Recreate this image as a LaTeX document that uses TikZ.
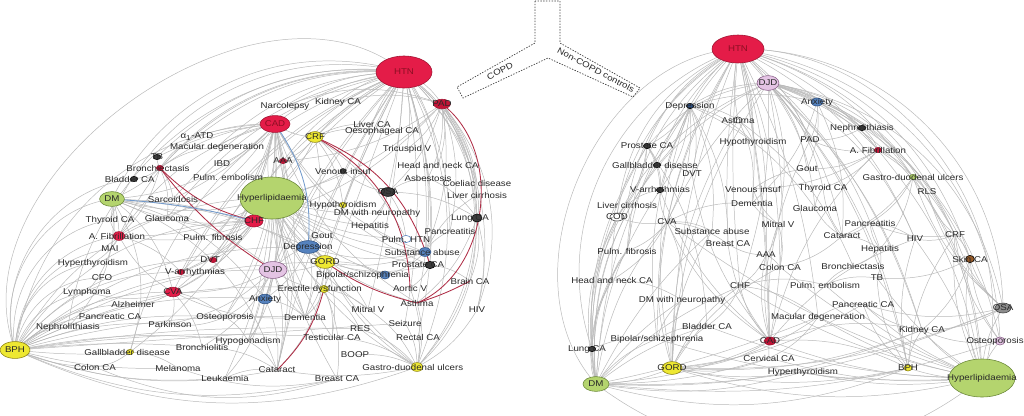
\documentclass[tikz,border=0pt]{standalone}
\usepackage{fontspec}
\newfontfamily\netfont[FakeStretch=1.15]{Liberation Sans}
\usetikzlibrary{shapes.geometric, backgrounds}
\definecolor{htnred}{RGB}{228,28,72}
\definecolor{htnline}{RGB}{160,20,50}
\definecolor{htntext}{RGB}{140,15,35}
\definecolor{dotred}{RGB}{195,20,55}
\definecolor{limefill}{RGB}{180,212,110}
\definecolor{limeline}{RGB}{105,135,55}
\definecolor{yelfill}{RGB}{238,232,50}
\definecolor{yelline}{RGB}{140,130,20}
\definecolor{lilac}{RGB}{228,196,228}
\definecolor{lilacline}{RGB}{135,95,135}
\definecolor{bluefill}{RGB}{85,130,190}
\definecolor{blueline}{RGB}{45,80,130}
\definecolor{darkdot}{RGB}{60,60,60}
\definecolor{browndot}{RGB}{150,90,40}
\definecolor{labelgray}{RGB}{40,40,40}
\definecolor{edgegray}{RGB}{185,185,185}
\definecolor{edgered}{RGB}{175,45,70}
\definecolor{edgeblue}{RGB}{115,155,205}
\tikzset{
  lbl/.style={
    font=\netfont\fontsize{6}{7}\selectfont,
    text=labelgray,
    inner sep=0.5pt
  },
  dotnode/.style={
    ellipse,
    draw,
    line width=0.4pt,
    inner sep=0pt,
    minimum width=0.18cm,
    minimum height=0.13cm
  },
  gedge/.style={
    draw=edgegray,
    line width=0.35pt
  },
  redge/.style={
    draw=edgered,
    line width=0.6pt
  },
  bedge/.style={
    draw=edgeblue,
    line width=0.6pt
  },
  ybox/.style={
    draw=black!75,
    line width=0.5pt,
    dash pattern=on 1pt off 1pt
  }
}

\begin{document}
\begin{tikzpicture}[x=0.025cm, y=-0.025cm]
  \useasboundingbox (0,0) rectangle (1024,415);

  % Encadre en Y
  \draw[ybox] (535,1) -- (535,43) -- (457,87) -- (463,98) -- (548,58) -- (633,97) -- (640,88) -- (560,43) -- (560,1) -- cycle;
  \node[lbl, rotate=28, inner sep=0pt] (copd) at (500,71) {COPD};
  \node[lbl, rotate=-28, inner sep=0pt] (noncopd) at (596,70) {Non-COPD controls};

  % Reseau COPD : noeuds
  \node[dotnode, fill=htnred, draw=htnline, minimum width=1.4cm, minimum height=0.8cm, label={[lbl, text=htntext]center:HTN}] (lHTN) at (404,72) {};
  \node[dotnode, fill=htnred, draw=htnline, minimum width=0.75cm, minimum height=0.42cm, label={[lbl, text=htntext]center:CAD}] (lCAD) at (275,124) {};
  \node[dotnode, fill=yelfill, draw=yelline, minimum width=0.4cm, minimum height=0.27cm, label={[lbl]center:CRF}] (lCRF) at (315,137) {};
  \node[dotnode, fill=dotred, draw=htnline, minimum width=0.42cm, minimum height=0.24cm, label={[lbl]center:PAD}] (lPAD) at (442,104) {};
  \node[dotnode, fill=limefill, draw=limeline, minimum width=1.6cm, minimum height=1.05cm, label={[lbl]center:Hyperlipidaemia}] (lHyper) at (272,198) {};
  \node[dotnode, fill=limefill, draw=limeline, minimum width=0.62cm, minimum height=0.37cm, label={[lbl]center:DM}] (lDM) at (112,199) {};
  \node[dotnode, fill=htnred, draw=htnline, minimum width=0.45cm, minimum height=0.3cm, label={[lbl]center:CHF}] (lCHF) at (254,221) {};
  \node[dotnode, fill=bluefill, draw=blueline, minimum width=0.58cm, minimum height=0.32cm, label={[lbl]center:Depression}] (lDep) at (308,247) {};
  \node[dotnode, fill=lilac, draw=lilacline, minimum width=0.7cm, minimum height=0.42cm, label={[lbl]center:DJD}] (lDJD) at (273,270) {};
  \node[dotnode, fill=yelfill, draw=yelline, minimum width=0.5cm, minimum height=0.32cm, label={[lbl]center:GORD}] (lGORD) at (325,262) {};
  \node[dotnode, fill=yelfill, draw=yelline, minimum width=0.75cm, minimum height=0.42cm, label={[lbl]center:BPH}] (lBPH) at (15,350) {};
  \node[dotnode, fill=htnred, draw=htnline, minimum width=0.38cm, minimum height=0.24cm, label={[lbl]center:CVA}] (lCVA) at (173,292) {};
  \node[dotnode, fill=htnred, draw=htnline, minimum width=0.3cm, minimum height=0.22cm, label={[lbl, xshift=-1.5pt]center:A. Fibrillation}] (lAFib) at (119,236) {};
  \node[dotnode, fill=darkdot, draw=black, minimum width=0.35cm, minimum height=0.22cm, label={[lbl]center:OSA}] (lOSA) at (388,192) {};
  \node[dotnode, fill=darkdot, draw=black, minimum width=0.25cm, minimum height=0.2cm, label={[lbl, xshift=-5pt]center:Lung CA}] (lLung) at (477,218) {};
  \node[dotnode, fill=bluefill, draw=blueline, minimum width=0.3cm, minimum height=0.22cm, label={[lbl, xshift=-2pt]center:Substance abuse}] (lSub) at (425,252) {};
  \node[dotnode, fill=darkdot, draw=black, minimum width=0.25cm, minimum height=0.18cm, label={[lbl, xshift=-8.5pt]center:Prostate CA}] (lPros) at (430,265) {};
  \node[dotnode, fill=bluefill, draw=blueline, minimum width=0.25cm, minimum height=0.2cm, label={[lbl, xshift=-16pt]center:Bipolar/schizophrenia}] (lBip) at (385,275) {};
  \node[dotnode, fill=bluefill, draw=blueline, minimum width=0.35cm, minimum height=0.24cm, label={[lbl]center:Anxiety}] (lAnx) at (265,299) {};
  \node[dotnode, fill=yelfill, draw=yelline, minimum width=0.22cm, minimum height=0.18cm, label={[lbl, xshift=-3pt]center:Erectile dysfunction}] (lED) at (324,289) {};
  \node[dotnode, fill=yelfill, draw=yelline, minimum width=0.3cm, minimum height=0.22cm, label={[lbl, xshift=-3pt]center:Gastro-duodenal ulcers}] (lGDU) at (417,367) {};
  \node[dotnode, fill=yelfill, draw=yelline, label={[lbl, xshift=-2pt]center:Gallbladder disease}] (lGall) at (130,352) {};
  \node[dotnode, fill=yelfill, draw=yelline, label={[lbl]center:Hypothyroidism}] (lHypo) at (343,205) {};
  \node[dotnode, fill=dotred, draw=htnline, label={[lbl, xshift=-2pt]center:DVT}] (lDVT) at (213,260) {};
  \node[dotnode, fill=dotred, draw=htnline, label={[lbl, xshift=10pt]center:V-arrhythmias}] (lVarr) at (181,272) {};
  \node[dotnode, fill=dotred, draw=htnline, label={[lbl]center:AAA}] (lAAA) at (283,161) {};
  \node[dotnode, fill=darkdot, draw=black, label={[lbl]center:TB}] (lTB) at (157,157) {};
  \node[dotnode, fill=dotred, draw=htnline, label={[lbl, xshift=-1.5pt]center:Bronchiectasis}] (lBronch) at (160,168) {};
  \node[dotnode, fill=darkdot, draw=black, label={[lbl, xshift=-3pt]center:Bladder CA}] (lBladder) at (134,179) {};
  \node[dotnode, fill=white, draw=bluefill, minimum width=0.25cm, minimum height=0.18cm, label={[lbl]center:Pulm. HTN}] (lPulmH) at (406,239) {};
  \node[dotnode, fill=darkdot, draw=black, minimum width=0.15cm, minimum height=0.12cm, label={[lbl]center:Venous insuf}] (lVenous) at (343,171) {};

  \node[lbl] (lNarco) at (285,106) {Narcolepsy};
  \node[lbl] (lKidney) at (338,102) {Kidney CA};
  \node[lbl] (lLiver) at (372,124) {Liver CA};
  \node[lbl] (lOeso) at (382,131) {Oesophageal CA};
  \node[lbl] (lTric) at (407,149) {Tricuspid V};
  \node[lbl] (lHNC) at (438,165) {Head and neck CA};
  \node[lbl] (lAsb) at (428,178) {Asbestosis};
  \node[lbl] (lCoel) at (477,183) {Coeliac disease};
  \node[lbl] (lCirr) at (477,195) {Liver cirrhosis};
  \node[lbl] (lATD) at (197,137) {α\textsubscript{1}-ATD};
  \node[lbl] (lMac) at (217,147) {Macular degeneration};
  \node[lbl] (lIBD) at (222,164) {IBD};
  \node[lbl] (lPulmE) at (228,177) {Pulm. embolism};
  \node[lbl] (lSarc) at (173,199) {Sarcoidosis};
  \node[lbl] (lThyCA) at (110,220) {Thyroid CA};
  \node[lbl] (lGlau) at (167,218) {Glaucoma};
  \node[lbl] (lPulmF) at (213,237) {Pulm. fibrosis};
  \node[lbl] (lMAI) at (110,249) {MAI};
  \node[lbl] (lHyperT) at (93,263) {Hyperthyroidism};
  \node[lbl] (lCFO) at (102,278) {CFO};
  \node[lbl] (lLymph) at (87,292) {Lymphoma};
  \node[lbl] (lAlz) at (133,304) {Alzheimer};
  \node[lbl] (lPancCA) at (110,316) {Pancreatic CA};
  \node[lbl] (lOsteo) at (225,317) {Osteoporosis};
  \node[lbl] (lPark) at (170,324) {Parkinson};
  \node[lbl] (lNeph) at (68,327) {Nephrolithiasis};
  \node[lbl] (lHypog) at (248,341) {Hypogonadism};
  \node[lbl] (lBronchio) at (202,347) {Bronchiolitis};
  \node[lbl] (lColon) at (95,367) {Colon CA};
  \node[lbl] (lMela) at (178,368) {Melanoma};
  \node[lbl] (lLeuk) at (225,378) {Leukaemia};
  \node[lbl] (lDM2) at (377,213) {DM with neuropathy};
  \node[lbl] (lHep) at (370,226) {Hepatitis};
  \node[lbl] (lPanc) at (450,231) {Pancreatitis};
  \node[lbl] (lGout) at (322,236) {Gout};
  \node[lbl] (lBrain) at (470,281) {Brain CA};
  \node[lbl] (lAort) at (410,288) {Aortic V};
  \node[lbl] (lAsthma) at (417,303) {Asthma};
  \node[lbl] (lMitral) at (368,309) {Mitral V};
  \node[lbl] (lHIV) at (477,310) {HIV};
  \node[lbl] (lDem) at (305,317) {Dementia};
  \node[lbl] (lSeiz) at (405,323) {Seizure};
  \node[lbl] (lRES) at (360,329) {RES};
  \node[lbl] (lTest) at (332,337) {Testicular CA};
  \node[lbl] (lRect) at (418,337) {Rectal CA};
  \node[lbl] (lBOOP) at (355,355) {BOOP};
  \node[lbl] (lCat) at (277,370) {Cataract};
  \node[lbl] (lBreast) at (337,379) {Breast CA};

  % Reseau non-COPD : noeuds
  \node[dotnode, fill=htnred, draw=htnline, minimum width=1.3cm, minimum height=0.7cm, label={[lbl, text=htntext]center:HTN}] (rHTN) at (738,49) {};
  \node[dotnode, fill=lilac, draw=lilacline, minimum width=0.55cm, minimum height=0.37cm, label={[lbl]center:DJD}] (rDJD) at (768,83) {};
  \node[dotnode, fill=limefill, draw=limeline, minimum width=1.65cm, minimum height=0.95cm, label={[lbl]center:Hyperlipidaemia}] (rHyper) at (982,378) {};
  \node[dotnode, fill=limefill, draw=limeline, minimum width=0.65cm, minimum height=0.37cm, label={[lbl]center:DM}] (rDM) at (596,384) {};
  \node[dotnode, fill=yelfill, draw=yelline, minimum width=0.5cm, minimum height=0.32cm, label={[lbl]center:GORD}] (rGORD) at (672,368) {};
  \node[dotnode, fill=black!45, draw=darkdot, minimum width=0.4cm, minimum height=0.25cm, label={[lbl]center:OSA}] (rOSA) at (1003,308) {};
  \node[dotnode, fill=bluefill, draw=blueline, minimum width=0.3cm, minimum height=0.2cm, label={[lbl]center:Anxiety}] (rAnx) at (817,102) {};
  \node[dotnode, fill=lilac, draw=lilacline, minimum width=0.25cm, minimum height=0.2cm, label={[lbl, xshift=-3.5pt]center:Osteoporosis}] (rOsteo) at (1000,341) {};
  \node[dotnode, fill=blueline, draw=black, label={[lbl]center:Depression}] (rDep) at (690,106) {};
  \node[dotnode, fill=white, draw=darkdot, minimum width=0.2cm, minimum height=0.15cm, label={[lbl]center:Asthma}] (rAsthma) at (738,120) {};
  \node[dotnode, fill=darkdot, draw=black, label={[lbl]center:Prostate CA}] (rPros) at (647,146) {};
  \node[dotnode, fill=dotred, draw=htnline, label={[lbl]center:A. Fibrillation}] (rAFib) at (878,150) {};
  \node[dotnode, fill=darkdot, draw=black, label={[lbl]center:Nephrolithiasis}] (rNeph) at (862,128) {};
  \node[dotnode, fill=darkdot, draw=black, label={[lbl, xshift=-1.5pt]center:Gallbladder disease}] (rGall) at (657,165) {};
  \node[dotnode, fill=limefill, draw=limeline, label={[lbl]center:Gastro-duodenal ulcers}] (rGDU) at (913,177) {};
  \node[dotnode, fill=darkdot, draw=black, label={[lbl]center:V-arrhythmias}] (rVarr) at (660,190) {};
  \node[dotnode, fill=white, draw=darkdot, minimum width=0.35cm, minimum height=0.2cm, label={[lbl]center:COD}] (rCOD) at (617,217) {};
  \node[dotnode, fill=dotred, draw=htnline, minimum width=0.3cm, minimum height=0.2cm, label={[lbl]center:CAD}] (rCAD) at (770,341) {};
  \node[dotnode, fill=browndot, draw=black, minimum width=0.22cm, minimum height=0.18cm, label={[lbl]center:Skin CA}] (rSkin) at (970,259) {};
  \node[dotnode, fill=yelfill, draw=yelline, minimum width=0.2cm, minimum height=0.15cm, label={[lbl]center:BPH}] (rBPH) at (908,368) {};
  \node[dotnode, fill=darkdot, draw=black, label={[lbl, xshift=-3.5pt]center:Lung CA}] (rLung) at (592,349) {};

  \node[lbl] (rHypoT) at (753,142) {Hypothyroidism};
  \node[lbl] (rPAD) at (810,140) {PAD};
  \node[lbl] (rGout) at (807,169) {Gout};
  \node[lbl] (rDVT) at (692,174) {DVT};
  \node[lbl] (rThyCA) at (823,188) {Thyroid CA};
  \node[lbl] (rVenous) at (753,189) {Venous insuf};
  \node[lbl] (rRLS) at (927,192) {RLS};
  \node[lbl] (rDem) at (752,203) {Dementia};
  \node[lbl] (rCirr) at (627,205) {Liver cirrhosis};
  \node[lbl] (rGlau) at (815,208) {Glaucoma};
  \node[lbl] (rCVA) at (667,222) {CVA};
  \node[lbl] (rMitral) at (778,224) {Mitral V};
  \node[lbl] (rPanc) at (870,223) {Pancreatitis};
  \node[lbl] (rSub) at (712,231) {Substance abuse};
  \node[lbl] (rCat) at (842,236) {Cataract};
  \node[lbl] (rHIV) at (915,239) {HIV};
  \node[lbl] (rCRF) at (955,235) {CRF};
  \node[lbl] (rBreast) at (728,244) {Breast CA};
  \node[lbl] (rHep) at (880,249) {Hepatitis};
  \node[lbl] (rPulmF) at (627,251) {Pulm. fibrosis};
  \node[lbl] (rAAA) at (766,255) {AAA};
  \node[lbl] (rBronch) at (853,266) {Bronchiectasis};
  \node[lbl] (rColon) at (780,267) {Colon CA};
  \node[lbl] (rTB) at (877,278) {TB};
  \node[lbl] (rHNC) at (612,280) {Head and neck CA};
  \node[lbl] (rCHF) at (740,286) {CHF};
  \node[lbl] (rPulmE) at (825,285) {Pulm. embolism};
  \node[lbl] (rDM2) at (682,300) {DM with neuropathy};
  \node[lbl] (rPancCA) at (863,304) {Pancreatic CA};
  \node[lbl] (rMac) at (818,317) {Macular degeneration};
  \node[lbl] (rBladder) at (707,326) {Bladder CA};
  \node[lbl] (rKidney) at (922,330) {Kidney CA};
  \node[lbl] (rBip) at (657,339) {Bipolar/schizephrenia};
  \node[lbl] (rCerv) at (769,358) {Cervical CA};
  \node[lbl] (rHyperT) at (803,372) {Hyperthyroidism};

  % Aretes (en arriere-plan)
  \begin{pgfonlayer}{background}
  \foreach \a/\b/\c in {
    lHTN/lBPH/-75, lHTN/lDM/-40, lHTN/lThyCA/-40, lHTN/lAFib/-35, lHTN/lNeph/-45, lHTN/lGall/-30, lHTN/lCAD/-15, lHTN/lCRF/-10,
    lHTN/lHyper/-10, lHTN/lPAD/15, lHTN/lLung/25, lHTN/lBrain/30, lHTN/lHIV/30, lHTN/lAsthma/15, lHTN/lGDU/25, lHTN/lDJD/-10,
    lHTN/lDep/-5, lHTN/lGORD/-5, lHTN/lCHF/-15, lHTN/lKidney/-15, lHTN/lNarco/-15, lHTN/lMac/-20, lHTN/lBronch/-25, lHTN/lTB/-25,
    lHTN/lATD/-20, lHTN/lCVA/-20, lHTN/lAnx/-10, lHTN/lSub/10, lHTN/lPros/10, lHTN/lHypo/-5, lHTN/lOSA/5, lHTN/lCirr/20,
    lHTN/lCoel/20, lHTN/lHNC/15, lHTN/lAAA/-15, lHTN/lDVT/-15, lHTN/lVarr/-20, lHTN/lMitral/5, lHTN/lSeiz/10, lHTN/lED/0,
    lHTN/lCat/-10, lHTN/lDem/-5, lHTN/lGlau/-20, lHTN/lSarc/-20, lHTN/lLiver/-10, lHTN/lTric/10, lHTN/lPanc/15, lHTN/lRect/15,
    lBPH/lGDU/-22, lBPH/lCat/-15, lBPH/lLeuk/-12, lBPH/lBreast/-18, lBPH/lColon/-10, lBPH/lMela/-8, lBPH/lGall/-5, lBPH/lBronchio/5,
    lBPH/lHypog/8, lBPH/lOsteo/12, lBPH/lPark/12, lBPH/lNeph/20, lBPH/lPancCA/20, lBPH/lAlz/20, lBPH/lLymph/30, lBPH/lCVA/20,
    lBPH/lAnx/15, lBPH/lDJD/18, lBPH/lDem/8, lBPH/lED/15, lBPH/lCFO/40, lBPH/lHyperT/40, lBPH/lMAI/40, lBPH/lAFib/40,
    lBPH/lThyCA/45, lBPH/lDM/50, lBPH/lVarr/25, lBPH/lDVT/25, lBPH/lHyper/30, lBPH/lCHF/28, lBPH/lDep/20, lBPH/lGORD/15,
    lBPH/lTest/5, lBPH/lRES/5, lBPH/lSeiz/0, lBPH/lCAD/40, lBPH/lBladder/50,
    lCAD/lHyper/-15, lCAD/lCHF/15, lCAD/lAFib/-20, lCAD/lBronch/-15, lCAD/lMac/-10, lCAD/lATD/-10, lCAD/lTB/-10, lCAD/lVarr/15,
    lCAD/lDVT/15, lCAD/lDJD/15, lCAD/lGORD/-15, lCAD/lAnx/15, lCAD/lCVA/20, lCAD/lGall/20, lCAD/lOsteo/15, lCAD/lDem/-10,
    lCAD/lSub/-20, lCAD/lPros/-20, lCAD/lAsthma/-20, lCAD/lGDU/-20, lCAD/lCat/15, lCAD/lHypog/10, lCAD/lPulmF/15, lCAD/lIBD/10,
    lCAD/lSarc/10, lCAD/lGlau/15, lCAD/lDM/20,
    lHyper/lDJD/15, lHyper/lGORD/-15, lHyper/lDep/-10, lHyper/lAnx/15, lHyper/lED/-15, lHyper/lDem/-15, lHyper/lCat/15, lHyper/lOsteo/15,
    lHyper/lCVA/15, lHyper/lVarr/15, lHyper/lAFib/15, lHyper/lDM/15, lHyper/lSub/-15, lHyper/lPros/-15, lHyper/lAsthma/-20, lHyper/lGDU/-20,
    lHyper/lHypog/10, lHyper/lLeuk/10, lHyper/lBreast/-10, lHyper/lTest/-10, lHyper/lGout/-10, lHyper/lHypo/-10, lHyper/lVenous/-10, lHyper/lCRF/-10,
    lHyper/lPAD/-15, lHyper/lMitral/-15, lHyper/lBip/-15, lHyper/lPulmH/-15, lHyper/lDM2/-10, lHyper/lHep/-10,
    lDM/lAFib/10, lDM/lThyCA/10, lDM/lGall/25, lDM/lCVA/20, lDM/lDJD/15, lDM/lGORD/15, lDM/lDep/10, lDM/lLymph/25,
    lDM/lNeph/25, lDM/lCat/25, lDM/lAnx/20, lDM/lSarc/-10, lDM/lBronch/-10,
    lGORD/lDJD/15, lGORD/lED/15, lGORD/lDep/15, lGORD/lSub/-15, lGORD/lBip/15, lGORD/lPros/-15, lGORD/lCat/20, lGORD/lGDU/-15,
    lGORD/lDem/15, lGORD/lMitral/15, lGORD/lTest/15,
    lDJD/lDep/15, lDJD/lAnx/15, lDJD/lOsteo/15, lDJD/lDem/-15, lDJD/lCat/15, lDJD/lHypog/15, lDJD/lED/-15, lDJD/lCVA/15,
    lDJD/lPark/15, lDJD/lBronchio/15, lDep/lAnx/15, lDep/lBip/-15, lDep/lSub/-15, lDep/lDem/15, lDep/lGout/15,
    lPAD/lAAA/15, lPAD/lCirr/15, lPAD/lLung/15, lPAD/lCoel/15, lPAD/lHNC/15, lPAD/lTric/15, lPAD/lCHF/15, lPAD/lOSA/15,
    lPAD/lPanc/15, lPAD/lSub/15, lPAD/lHIV/30, lPAD/lGDU/35, lPAD/lKidney/-15, lPAD/lNarco/-20, lPAD/lAsb/15,
    lLung/lGDU/20, lLung/lHIV/15, lLung/lBrain/15, lLung/lAsthma/15, lLung/lAsb/-15, lLung/lOSA/-15, lLung/lCirr/-15,
    lBrain/lGDU/15, lHIV/lGDU/15, lAsthma/lGDU/15, lAort/lGDU/15, lSeiz/lGDU/15, lRect/lGDU/15, lMitral/lGDU/15, lBOOP/lGDU/15,
    lTest/lGDU/15, lRES/lGDU/15, lCat/lGDU/-10,
    lCHF/lAFib/15, lCHF/lDVT/15, lCHF/lVarr/15, lCHF/lPulmF/15, lCHF/lAAA/15, lCHF/lCVA/15, lCHF/lGlau/15, lCHF/lDM/15,
    lCVA/lAlz/15, lCVA/lPark/15, lCVA/lDem/-15, lCVA/lAFib/15, lCVA/lOsteo/15, lCVA/lLymph/15, lCVA/lBronchio/15,
    lAnx/lHypog/15, lAnx/lDem/15, lAnx/lCat/15, lAnx/lLeuk/15,
    lCRF/lAAA/15, lCRF/lHypo/15, lCRF/lVenous/15, lCRF/lCAD/15, lCRF/lPulmH/15, lCRF/lLiver/15, lCRF/lOeso/15, lCRF/lDep/15,
    lOSA/lPulmH/15, lOSA/lHep/15, lOSA/lDM2/15, lOSA/lAsb/15, lOSA/lVenous/15,
    lSub/lBip/15, lSub/lPros/15, lSub/lPanc/15, lSub/lHep/15, lSub/lCirr/15, lPros/lAort/15, lPros/lBrain/15,
    lED/lTest/15, lED/lBreast/15, lED/lDem/15, lED/lMitral/15, lED/lRES/15,
    lBronch/lTB/15, lBronch/lBladder/15, lBronch/lSarc/15, lBronch/lATD/15, lBronch/lMac/15, lBronch/lAFib/15, lBronch/lGlau/15,
    lGall/lColon/15, lGall/lMela/15, lLeuk/lCat/15, lMela/lBreast/-15, lColon/lBreast/-20, lBronchio/lCat/15, lHypog/lCat/15,
    lOsteo/lPark/15, lOsteo/lHypog/15, lAFib/lMAI/15, lAFib/lThyCA/15, lAFib/lHyperT/15, lAFib/lVarr/15, lAFib/lGlau/15,
    rHTN/rDM/-65, rHTN/rHyper/55, rHTN/rOSA/45, rHTN/rLung/-45, rHTN/rDep/-10, rHTN/rPros/-20, rHTN/rGall/-15, rHTN/rCVA/-10,
    rHTN/rCHF/-5, rHTN/rCAD/5, rHTN/rGORD/-10, rHTN/rAsthma/-10, rHTN/rHypoT/10, rHTN/rDVT/-10, rHTN/rBPH/15, rHTN/rKidney/15,
    rHTN/rAFib/15, rHTN/rGDU/20, rHTN/rCRF/25, rHTN/rSkin/30, rHTN/rOsteo/40, rHTN/rPulmF/-25, rHTN/rHNC/-30, rHTN/rBip/-15,
    rHTN/rCerv/5, rHTN/rAAA/10, rHTN/rMac/10, rHTN/rDem/10, rHTN/rBreast/-5, rHTN/rColon/10, rHTN/rCirr/-25, rHTN/rCOD/-30,
    rHTN/rVarr/-15, rHTN/rDJD/10, rHTN/rPAD/15, rHTN/rHIV/20,
    rDJD/rDM/-35, rDJD/rHyper/35, rDJD/rGORD/-15, rDJD/rBPH/15, rDJD/rOSA/35, rDJD/rOsteo/30, rDJD/rCAD/10, rDJD/rAnx/15,
    rDJD/rPAD/15, rDJD/rGout/15, rDJD/rCat/15, rDJD/rGlau/15, rDJD/rDep/-15, rDJD/rPros/-20, rDJD/rCVA/-10, rDJD/rLung/-35,
    rDJD/rKidney/15, rDJD/rAFib/15, rDJD/rHep/15, rDJD/rHIV/20, rDJD/rSkin/25, rDJD/rCRF/25, rDJD/rRLS/25, rDJD/rGDU/20,
    rDJD/rNeph/15, rDJD/rThyCA/15, rDJD/rMitral/15, rDJD/rCHF/10,
    rDM/rHyper/-38, rDM/rGORD/-10, rDM/rBPH/-18, rDM/rCAD/-10, rDM/rLung/15, rDM/rBip/15, rDM/rHNC/20, rDM/rPulmF/20,
    rDM/rCirr/20, rDM/rCOD/20, rDM/rCVA/15, rDM/rPros/20, rDM/rGall/20, rDM/rBladder/10, rDM/rDM2/10, rDM/rCHF/10,
    rDM/rDep/15, rDM/rHyperT/-12, rDM/rCerv/-8, rDM/rOSA/-12, rDM/rKidney/-12, rDM/rMac/-5, rDM/rVarr/15, rDM/rSub/10, rDM/rOsteo/-12,
    rHyper/rGORD/15, rHyper/rBPH/10, rHyper/rCAD/10, rHyper/rOSA/15, rHyper/rOsteo/15, rHyper/rKidney/10, rHyper/rMac/10, rHyper/rCHF/10,
    rHyper/rSkin/15, rHyper/rCRF/15, rHyper/rPancCA/10, rHyper/rAFib/-15, rHyper/rGDU/-15, rHyper/rCVA/10, rHyper/rBip/10, rHyper/rColon/10,
    rHyper/rHyperT/10, rHyper/rHIV/-10, rHyper/rTB/10, rHyper/rPulmE/10, rHyper/rCerv/10, rHyper/rBladder/10,
    rGORD/rBPH/-12, rGORD/rCAD/-15, rGORD/rHyperT/-10, rGORD/rBladder/15, rGORD/rDM2/15, rGORD/rCVA/15, rGORD/rAsthma/15, rGORD/rDep/15,
    rGORD/rSub/15, rGORD/rCHF/15, rGORD/rCerv/-15, rGORD/rOSA/-12, rGORD/rMac/-15, rGORD/rKidney/-12, rGORD/rPancCA/-12, rGORD/rColon/15,
    rCAD/rCHF/15, rCAD/rAFib/15, rCAD/rAAA/15, rCAD/rCVA/15, rCAD/rBPH/15, rCAD/rPAD/15, rCAD/rVarr/15, rCAD/rDVT/15,
    rCAD/rHIV/15, rCAD/rKidney/15, rCAD/rMitral/15, rCAD/rBreast/15, rBPH/rKidney/15, rBPH/rPancCA/15, rBPH/rCRF/15, rBPH/rHIV/15,
    rBPH/rTB/15, rBPH/rHyperT/15, rOSA/rSkin/15, rOSA/rCRF/15, rOSA/rKidney/15, rOSA/rPancCA/15, rOSA/rRLS/15, rOSA/rGDU/15,
    rOsteo/rSkin/15, rOsteo/rKidney/15, rOsteo/rCRF/15,
    rDep/rAnx/15, rDep/rAsthma/15, rDep/rPros/15, rDep/rBip/-15, rDep/rSub/15, rDep/rCVA/15, rDep/rGall/15, rDep/rVarr/15,
    rDep/rDVT/15, rDep/rHypoT/15, rDep/rGlau/15, rDep/rBreast/15, rDep/rPulmF/-15,
    rAnx/rPAD/15, rAnx/rNeph/15, rAnx/rGout/15, rAnx/rAFib/15, rAnx/rDem/15, rAnx/rCat/15, rAsthma/rHypoT/15, rAsthma/rBronch/15, rAsthma/rVenous/15,
    rPros/rGall/15, rPros/rVarr/15, rPros/rCirr/15, rPros/rLung/-15, rPros/rBladder/15, rPros/rCOD/15,
    rCVA/rCOD/15, rCVA/rSub/15, rCVA/rPulmF/15, rCVA/rVarr/15, rCVA/rDM2/15, rCVA/rHNC/15, rCVA/rDem/15, rCVA/rBreast/15,
    rAFib/rGout/15, rAFib/rGDU/15, rAFib/rVenous/15, rAFib/rCRF/15, rAFib/rThyCA/15, rAFib/rPAD/15,
    rGDU/rRLS/15, rGDU/rCat/15, rGDU/rHep/15, rGDU/rPanc/15, rCRF/rSkin/15, rCRF/rHIV/15, rCRF/rPanc/15, rCRF/rRLS/15,
    rHep/rBronch/15, rHep/rTB/15, rHep/rPanc/15, rCat/rGlau/15, rCat/rThyCA/15, rCat/rColon/15, rCat/rHep/15,
    rMitral/rAAA/15, rMitral/rColon/15, rMitral/rDem/15, rMitral/rVenous/15, rAAA/rCHF/15, rAAA/rColon/15, rAAA/rBreast/15,
    rCHF/rPulmE/15, rCHF/rMac/15, rCHF/rBladder/15, rPulmE/rTB/15, rPulmE/rBronch/15, rLung/rHNC/15, rLung/rBip/15, rLung/rCOD/15,
    rLung/rPulmF/15, rBip/rBladder/15, rBip/rDM2/15, rCOD/rCirr/15, rCirr/rPulmF/15, rCirr/rVarr/15, rMac/rCerv/15, rMac/rPancCA/15,
    rKidney/rPancCA/15, rSkin/rTB/15, rSkin/rKidney/15, rNeph/rPAD/15, rNeph/rAFib/15, rGall/rDVT/15, rGall/rVarr/15,
    rVenous/rDem/15, rVenous/rGout/15, rGlau/rThyCA/15, rPanc/rHIV/15, rPanc/rCat/15, rHNC/rPulmF/15, rHNC/rDM2/15}
    \draw[gedge] (\a.center) to[bend left=\c] (\b.center);

  % Aretes colorees
  \foreach \a/\b/\c in {lPAD/lAsthma/60, lCRF/lAort/30, lCRF/lPros/25, lGORD/lAsthma/-10, lBrain/lAsthma/5, lED/lCat/15, lBronch/lCHF/-15, lBronch/lDJD/-10}
    \draw[redge] (\a.center) to[bend left=\c] (\b.center);
  \foreach \a/\b/\c in {lCAD/lDep/20, lDM/lCHF/5}
    \draw[bedge] (\a.center) to[bend left=\c] (\b.center);
  \end{pgfonlayer}
\end{tikzpicture}
\end{document}
